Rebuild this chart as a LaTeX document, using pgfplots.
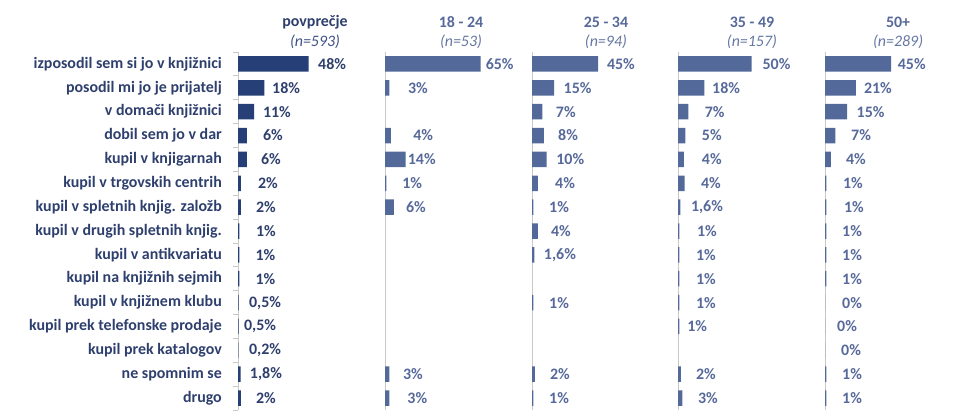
\documentclass[border=0pt]{standalone}
\usepackage{pgfplots}
\pgfplotsset{compat=1.18}
\usepackage{pgfplotstable}
\usepackage{fontspec}
\setmainfont{Carlito}
\definecolor{navyA}{HTML}{263F77}
\definecolor{blueB}{HTML}{53699A}
\definecolor{txtA}{HTML}{2E3F6E}
\definecolor{txtAn}{HTML}{3F5285}
\definecolor{txtB}{HTML}{56699A}
\definecolor{txtBn}{HTML}{6577A3}
\definecolor{axgray}{HTML}{C8C8C8}

% row value label-x label
\pgfplotstableread{
row val lx lab
1 48 64 48
2 18 32.7 18
3 11 26.5 11
4 6 23.8 6
5 6 22.4 6
6 2 20.4 2
7 2 19 2
8 1 19 1
9 1 18.7 1
10 1 18.7 1
11 0.5 18.4 0.5
12 0.5 15 0.5
13 0.2 18.4 0.2
14 1.8 19 1.8
15 2 19 2
}\tavg
\pgfplotstableread{
row val lx lab
1 65 78 65
2 3 22.4 3
4 4 26 4
5 14 25 14
6 1 18.5 1
7 6 21 6
14 3 19 3
15 3 22 3
}\tA
\pgfplotstableread{
row val lx lab
1 45 60.5 45
2 15 31 15
3 7 23 7
4 8 24.5 8
5 10 26 10
6 4 22.5 4
7 1 18.4 1
8 4 19.7 4
9 1.6 19 1.6
11 1 18.4 1
14 2 19 2
15 1 18.4 1
}\tB
\pgfplotstableread{
row val lx lab
1 50 67 50
2 18 32.7 18
3 7 25 7
4 5 23 5
5 4 23 4
6 4.5 22.4 4
7 1.6 19.7 1.6
8 1 19.7 1
9 1 19 1
10 1 19 1
11 1 19 1
12 1 13 1
14 2 19 2
15 3 20.4 3
}\tC
\pgfplotstableread{
row val lx lab
1 45 59 45
2 21 36 21
3 15 31 15
4 7 24.5 7
5 4 21 4
6 1 19 1
7 1 19.7 1
8 1 18.4 1
9 1 18.4 1
10 1 18.4 1
11 0 18.4 0
12 0 15 0
13 0 17.7 0
14 1 18.4 1
15 1 18.4 1
}\tD

\newcommand{\fnt}{\fontsize{16}{18}\selectfont}

\pgfplotsset{
  panel/.style={
    at={(#1bp,5bp)}, anchor=south west,
    scale only axis, width=147bp, height=358bp,
    xmin=0, xmax=100, ymin=0.5, ymax=15.5, y dir=reverse,
    axis x line=none, axis y line*=left,
    y axis line style={axgray, line width=1bp},
    xtick=\empty, ytick=\empty,
    clip=false,
    /pgf/number format/.cd, use comma, 1000 sep={}, assume math mode=true,
  },
  bars/.style={xbar, bar width=15.5bp, bar shift=0pt, fill=#1, draw=none},
  labs/.style={only marks, mark=*, mark size=0pt,
    mark options={draw=none, fill=none},
    point meta=\thisrow{lab},
    nodes near coords={\pgfmathprintnumber{\pgfplotspointmeta}\%},
    every node near coord/.append style={anchor=center, inner sep=0pt,
      font=\bfseries\fnt, text=#1}},
}

\begin{document}
\begin{tikzpicture}[x=1bp,y=1bp]
\useasboundingbox (0,0) rectangle (967,415);

% povprecje
\begin{axis}[panel=238,
  ytick={1,...,15},
  yticklabels={izposodil sem si jo v knjižnici, posodil mi jo je prijatelj,
    v domači knjižnici, dobil sem jo v dar, kupil v knjigarnah,
    kupil v trgovskih centrih, kupil v spletnih knjig. založb,
    kupil v drugih spletnih knjig., kupil v antikvariatu,
    kupil na knjižnih sejmih, kupil v knjižnem klubu,
    kupil prek telefonske prodaje, kupil prek katalogov,
    ne spomnim se, drugo},
  tick align=outside, major tick length=0pt,
  yticklabel style={font=\bfseries\fnt, text=txtA, anchor=east,
    inner sep=0pt, xshift=-16bp},
  extra y ticks={0.5,1.5,...,15.5},
  extra y tick labels={},
  extra y tick style={major tick length=5bp,
    tick style={axgray, line width=0.8bp}},
]
\addplot[bars=navyA] table[x=val, y=row]{\tavg};
\addplot[labs=txtA] table[x=lx, y=row]{\tavg};
\node[font=\bfseries\fnt, text=txtA] at (axis description cs:0.524,1) [yshift=29.5bp] {povprečje};
\node[font=\itshape\fnt, text=txtAn] at (axis description cs:0.524,1) [yshift=10.5bp] {(n=593)};
\end{axis}

% 18-24
\begin{axis}[panel=385]
\addplot[bars=blueB] table[x=val, y=row]{\tA};
\addplot[labs=txtB] table[x=lx, y=row]{\tA};
\node[font=\bfseries\fnt, text=txtB] at (axis description cs:0.517,1) [yshift=29.5bp] {18 - 24};
\node[font=\itshape\fnt, text=txtBn] at (axis description cs:0.517,1) [yshift=10.5bp] {(n=53)};
\end{axis}

% 25-34
\begin{axis}[panel=532]
\addplot[bars=blueB] table[x=val, y=row]{\tB};
\addplot[labs=txtB] table[x=lx, y=row]{\tB};
\node[font=\bfseries\fnt, text=txtB] at (axis description cs:0.503,1) [yshift=29.5bp] {25 - 34};
\node[font=\itshape\fnt, text=txtBn] at (axis description cs:0.503,1) [yshift=10.5bp] {(n=94)};
\end{axis}

% 35-49
\begin{axis}[panel=678]
\addplot[bars=blueB] table[x=val, y=row]{\tC};
\addplot[labs=txtB] table[x=lx, y=row]{\tC};
\node[font=\bfseries\fnt, text=txtB] at (axis description cs:0.503,1) [yshift=29.5bp] {35 - 49};
\node[font=\itshape\fnt, text=txtBn] at (axis description cs:0.503,1) [yshift=10.5bp] {(n=157)};
\end{axis}

% 50+
\begin{axis}[panel=825]
\addplot[bars=blueB] table[x=val, y=row]{\tD};
\addplot[labs=txtB] table[x=lx, y=row]{\tD};
\node[font=\bfseries\fnt, text=txtB] at (axis description cs:0.497,1) [yshift=29.5bp] {50+};
\node[font=\itshape\fnt, text=txtBn] at (axis description cs:0.497,1) [yshift=10.5bp] {(n=289)};
\end{axis}
\end{tikzpicture}
\end{document}
